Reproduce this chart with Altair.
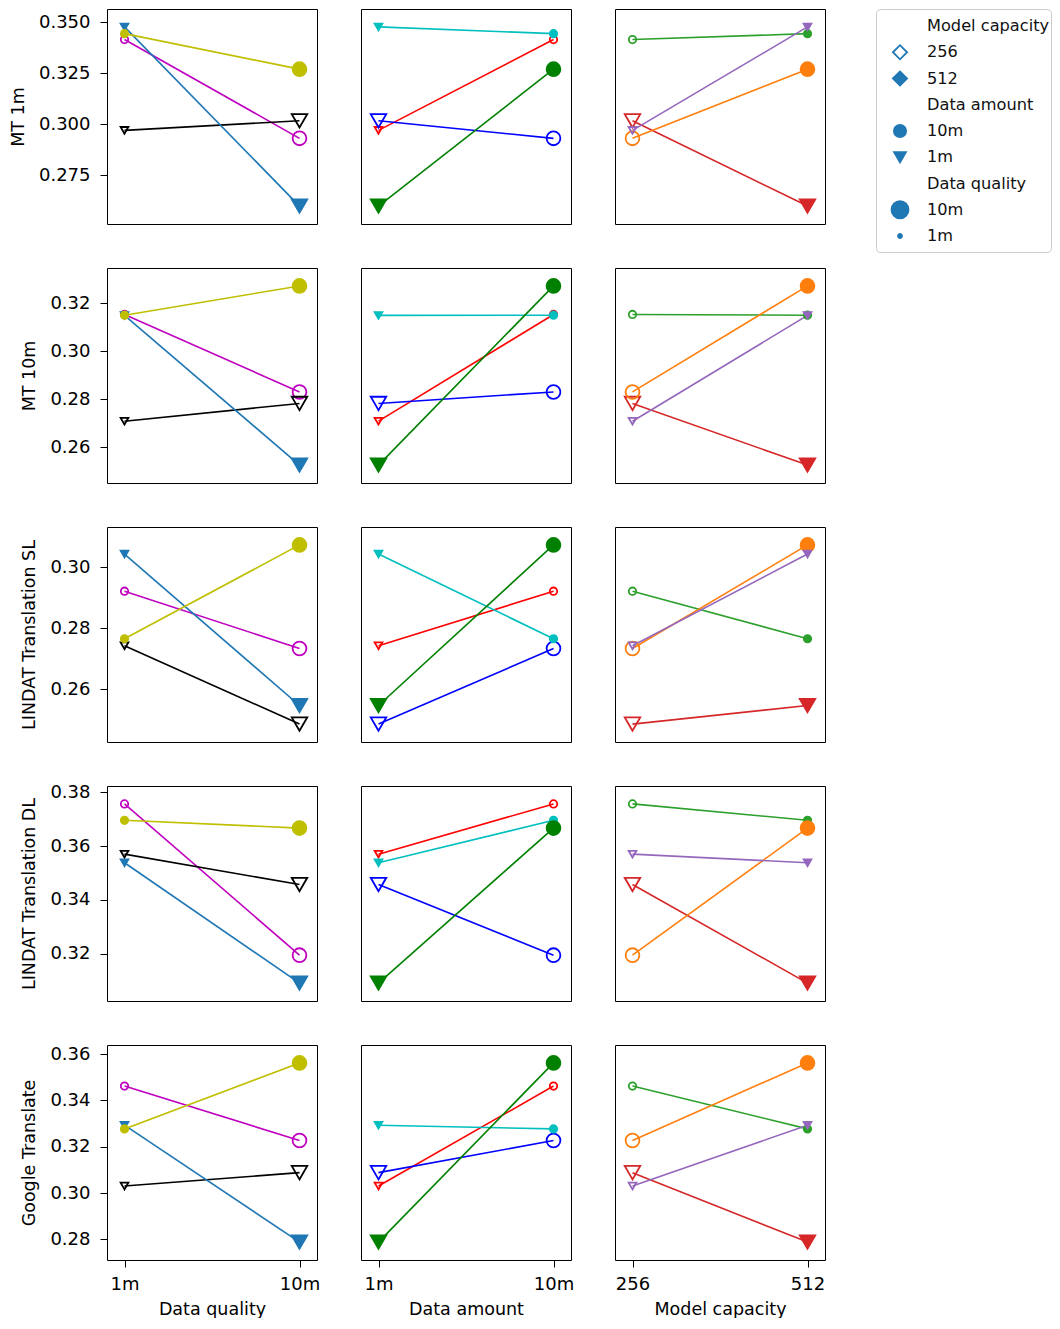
import altair as alt
import pandas as pd

# ---------------- data ----------------
tests = ["MT 1m", "MT 10m", "LINDAT Translation SL", "LINDAT Translation DL", "Google Translate"]

# the 8 training configurations
capacity = ["256", "256", "256", "256", "512", "512", "512", "512"]
amount = ["10m", "10m", "1m", "1m", "10m", "10m", "1m", "1m"]
quality = ["1m", "10m", "1m", "10m", "1m", "10m", "1m", "10m"]

score_mt_1m = [0.3416, 0.2932, 0.2971, 0.3018, 0.3445, 0.3271, 0.3478, 0.2600]
score_mt_10m = [0.3154, 0.2831, 0.2709, 0.2783, 0.3151, 0.3273, 0.3150, 0.2526]
score_lindat_sl = [0.2922, 0.2734, 0.2743, 0.2486, 0.2766, 0.3074, 0.3044, 0.2547]
score_lindat_dl = [0.3757, 0.3194, 0.3570, 0.3457, 0.3696, 0.3667, 0.3538, 0.3090]
score_google = [0.3462, 0.3227, 0.3030, 0.3088, 0.3277, 0.3562, 0.3293, 0.2788]
scores = [score_mt_1m, score_mt_10m, score_lindat_sl, score_lindat_dl, score_google]

y_ticks = [
    [0.275, 0.300, 0.325, 0.350],
    [0.26, 0.28, 0.30, 0.32],
    [0.26, 0.28, 0.30],
    [0.32, 0.34, 0.36, 0.38],
    [0.28, 0.30, 0.32, 0.34, 0.36],
]
y_formats = [".3f", ".2f", ".2f", ".2f", ".2f"]

factor_fields = ["quality", "amount", "capacity"]
factor_titles = ["Data quality", "Data amount", "Model capacity"]
factor_levels = [["1m", "10m"], ["1m", "10m"], ["256", "512"]]

group_fields = [("capacity", "amount"), ("capacity", "quality"), ("amount", "quality")]
group_keys = [
    [("256", "10m"), ("256", "1m"), ("512", "1m"), ("512", "10m")],
    [("256", "1m"), ("256", "10m"), ("512", "1m"), ("512", "10m")],
    [("10m", "1m"), ("1m", "10m"), ("10m", "10m"), ("1m", "1m")],
]
group_colors = [
    ["#bf00bf", "#000000", "#1f77b4", "#bfbf00"],
    ["#ff0000", "#0000ff", "#00bfbf", "#008000"],
    ["#2ca02c", "#d62728", "#ff7f0e", "#9467bd"],
]

legend_labels = ["Model capacity", "256", "512", "Data amount", "10m", "1m",
                 "Data quality", "10m", "1m"]
legend_kind = ["header", "cap256", "cap512", "header", "amt10m", "amt1m",
               "header", "q10m", "q1m"]

# ---------------- styles ----------------
shape_of_amount = {"10m": "circle", "1m": "triangle-down"}
size_of = {("circle", "10m"): 190, ("circle", "1m"): 55,
           ("triangle-down", "10m"): 240, ("triangle-down", "1m"): 60}
legend_style = {
    "cap256": ("diamond", 200, False),
    "cap512": ("diamond", 200, True),
    "amt10m": ("circle", 150, True),
    "amt1m": ("triangle-down", 140, True),
    "q10m": ("circle", 290, True),
    "q1m": ("circle", 16, True),
}
LEG_COLOR = "#1f77b4"
FONT = "DejaVu Sans"
W, H = 210, 215
COL_GAP = 44
N_COLS = 3


def cell(r, c):
    recs = []
    for i in range(8):
        rec = {"capacity": capacity[i], "amount": amount[i], "quality": quality[i],
               "score": scores[r][i]}
        key = tuple(rec[f] for f in group_fields[c])
        g = group_keys[c].index(key)
        col = group_colors[c][g]
        shp = shape_of_amount[rec["amount"]]
        rec.update({
            "x": rec[factor_fields[c]],
            "group": "|".join(key),
            "rank": g,
            "color": col,
            "fill": col if rec["capacity"] == "512" else "transparent",
            "shape": shp,
            "size": size_of[(shp, rec["quality"])],
        })
        recs.append(rec)
    df = pd.DataFrame(recs).sort_values("rank")

    vals = scores[r]
    lo, hi = min(vals), max(vals)
    pad = 0.1 * (hi - lo)
    yscale = alt.Scale(domain=[lo - pad, hi + pad], nice=False, zero=False)
    if c == 0:
        yaxis = alt.Axis(values=y_ticks[r], format=y_formats[r], title=tests[r])
    else:
        yaxis = None
    xscale = alt.Scale(domain=factor_levels[c], padding=0.1)
    if r == len(tests) - 1:
        xaxis = alt.Axis(title=factor_titles[c], labelAngle=0)
    else:
        xaxis = None

    x = alt.X("x:N", scale=xscale, sort=factor_levels[c], axis=xaxis)
    y = alt.Y("score:Q", scale=yscale, axis=yaxis)

    base = alt.Chart(df)
    lines = base.mark_line(strokeWidth=1.6).encode(
        x=x, y=y,
        color=alt.Color("color:N", scale=None),
        detail="group:N",
    )
    pts = base.mark_point(strokeWidth=1.8, opacity=1).encode(
        x=x, y=y,
        stroke=alt.Stroke("color:N", scale=None),
        fill=alt.Fill("fill:N", scale=None),
        shape=alt.Shape("shape:N", scale=None),
        size=alt.Size("size:Q", scale=None),
        order=alt.Order("rank:Q"),
    )
    return alt.layer(lines, pts).properties(width=W, height=H)


cells = [cell(r, c) for r in range(len(tests)) for c in range(N_COLS)]
grid = alt.ConcatChart(concat=cells, columns=N_COLS, spacing=COL_GAP, bounds="flush").resolve_scale(
    x="independent", y="independent")

# ---------------- legend ----------------
leg_recs = []
for i, (lab, kind) in enumerate(zip(legend_labels, legend_kind)):
    rec = {"row": i, "label": lab, "kind": kind}
    if kind != "header":
        shp, sz, filled = legend_style[kind]
        rec.update({"shape": shp, "size": sz, "fill": LEG_COLOR if filled else "transparent"})
    leg_recs.append(rec)
leg_df = pd.DataFrame(leg_recs)

ly = alt.Y("row:Q", scale=alt.Scale(domain=[0, 8], range=[17, 227]), axis=None)
leg_text = alt.Chart(leg_df).mark_text(
    align="left", baseline="middle", font=FONT, fontSize=16.2, color="#111111"
).encode(x=alt.value(51), y=ly, text="label:N")
leg_sym = alt.Chart(leg_df).transform_filter("datum.kind != 'header'").mark_point(
    strokeWidth=1.8, opacity=1, stroke=LEG_COLOR
).encode(
    x=alt.value(24), y=ly,
    shape=alt.Shape("shape:N", scale=None),
    size=alt.Size("size:Q", scale=None),
    fill=alt.Fill("fill:N", scale=None),
)
legend = alt.layer(leg_sym, leg_text).properties(
    width=175, height=243,
    view=alt.ViewBackground(stroke="#cccccc", strokeWidth=1, cornerRadius=4, fill="white"),
)

# with flush bounds the nested grid counts as zero width, so the gap spans the grid
grid_width = N_COLS * W + (N_COLS - 1) * COL_GAP
chart = alt.HConcatChart(hconcat=[grid, legend], spacing=grid_width + 51, bounds="flush").properties(
    padding={"left": 0, "top": 0, "right": 0, "bottom": 0}
).configure_view(
    stroke="black", strokeWidth=1
).configure_axis(
    labelFont=FONT, titleFont=FONT, labelFontSize=18, titleFontSize=17.5,
    titleFontWeight="normal", labelColor="black", titleColor="black",
    tickColor="black", tickSize=7, tickWidth=1, domain=False, grid=False,
    labelPadding=10, titlePadding=11,
).configure_axisX(
    labelPadding=8, titlePadding=7,
).configure_text(font=FONT)

chart.save("out.html", embed_options={"renderer": "svg", "actions": False})
